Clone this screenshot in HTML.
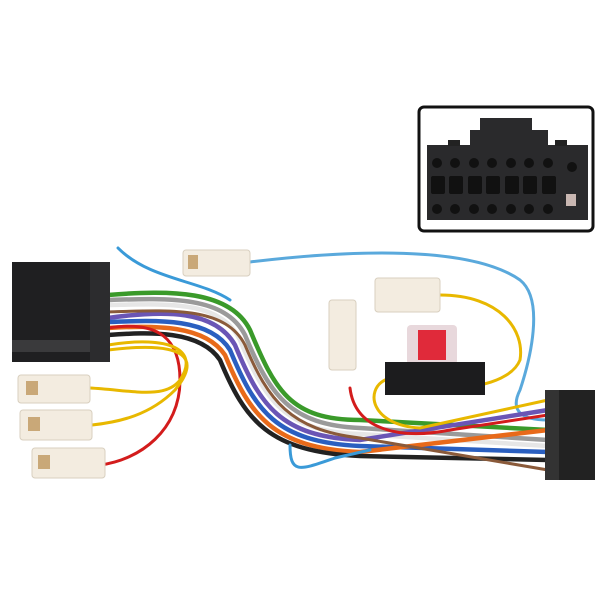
<!DOCTYPE html>
<html><head><meta charset="utf-8"><style>html,body{margin:0;padding:0;background:#fff}svg{display:block}</style></head>
<body>
<svg width="600" height="600" viewBox="0 0 600 600" xmlns="http://www.w3.org/2000/svg">
<rect width="600" height="600" fill="#fff"/>
<!-- inset -->
<rect x="419" y="107" width="174" height="124" rx="5" fill="#fff" stroke="#111" stroke-width="3"/>
<path d="M427 145 L427 220 L588 220 L588 145 L548 145 L548 130 L532 130 L532 118 L480 118 L480 130 L470 130 L470 145 Z" fill="#2a2a2c"/>
<rect x="448" y="140" width="12" height="6" fill="#222"/>
<rect x="555" y="140" width="12" height="6" fill="#222"/>
<g fill="#111">
<circle cx="437" cy="163" r="5"/><circle cx="455" cy="163" r="5"/><circle cx="474" cy="163" r="5"/><circle cx="492" cy="163" r="5"/><circle cx="511" cy="163" r="5"/><circle cx="529" cy="163" r="5"/><circle cx="548" cy="163" r="5"/><circle cx="572" cy="167" r="5"/>
<rect x="431" y="176" width="14" height="18" rx="2"/><rect x="449" y="176" width="14" height="18" rx="2"/><rect x="468" y="176" width="14" height="18" rx="2"/><rect x="486" y="176" width="14" height="18" rx="2"/><rect x="505" y="176" width="14" height="18" rx="2"/><rect x="523" y="176" width="14" height="18" rx="2"/><rect x="542" y="176" width="14" height="18" rx="2"/>
<circle cx="437" cy="209" r="5"/><circle cx="455" cy="209" r="5"/><circle cx="474" cy="209" r="5"/><circle cx="492" cy="209" r="5"/><circle cx="511" cy="209" r="5"/><circle cx="529" cy="209" r="5"/><circle cx="548" cy="209" r="5"/>
</g>
<rect x="566" y="194" width="10" height="12" fill="#c9b7b2"/>

<!-- wires -->
<g fill="none" stroke-width="4.5" stroke-linecap="round">
<path d="M118 248 C150 280 200 280 230 300" stroke="#3a9ad8" stroke-width="3"/>
<path d="M250 262 C350 250 470 245 520 280 C545 300 530 360 520 390 C510 410 520 420 548 420" stroke="#5aa9dc" stroke-width="3"/>
<path d="M440 295 C500 295 525 330 520 360 C510 385 460 390 450 385" stroke="#e8b800" stroke-width="3"/>
<path d="M108 295 C170 290 230 290 250 330 C275 390 290 420 360 420 L548 430" stroke="#3a9a2a"/>
<path d="M108 300 C170 298 225 296 245 335 C270 395 290 425 360 428 L548 440" stroke="#9a9a9a"/>
<path d="M108 305 C170 304 220 300 240 340 C265 400 285 432 360 434 L548 446" stroke="#e6e6e6"/>
<path d="M108 318 C165 310 215 310 235 345 C260 405 280 437 360 440 L548 410" stroke="#6a55b5"/>
<path d="M108 322 C160 320 210 318 230 350 C255 410 275 442 360 446 L548 452" stroke="#2a5fc0"/>
<path d="M108 328 C155 325 205 325 225 355 C250 415 272 448 360 452 L548 430" stroke="#e86a1a"/>
<path d="M108 335 C150 332 200 330 220 360 C245 420 268 452 360 456 L548 460" stroke="#222"/>
<path d="M108 312 C170 310 225 306 245 345 C268 400 290 430 360 438 L548 470" stroke="#8a5a3a" stroke-width="3"/>
<path d="M290 445 C290 475 300 470 335 458 L370 450" stroke="#3a9ad8" stroke-width="3"/>
<path d="M350 388 C355 430 400 440 450 430 L548 415" stroke="#d31c1c" stroke-width="3"/>
<path d="M385 380 C365 390 370 425 420 428 L548 400" stroke="#e8b800" stroke-width="3"/>
<path d="M108 328 C160 320 180 340 180 380 C180 430 140 460 100 465" stroke="#d31c1c" stroke-width="3"/>
<path d="M108 345 C170 335 200 350 180 380 C165 400 130 390 90 388" stroke="#e8b800" stroke-width="3"/>
<path d="M108 350 C190 340 200 360 175 390 C150 415 120 422 92 425" stroke="#e8b800" stroke-width="3"/>
</g>

<!-- left connector -->
<rect x="12" y="262" width="98" height="100" fill="#1f1f21"/>
<rect x="12" y="340" width="98" height="12" fill="#3a3a3c"/>
<rect x="90" y="262" width="20" height="100" fill="#2c2c2e"/>
<!-- right connector -->
<rect x="545" y="390" width="50" height="90" fill="#222"/>
<rect x="545" y="390" width="14" height="90" fill="#333"/>
<!-- fuse -->
<rect x="407" y="325" width="50" height="40" rx="4" fill="#e8d8dc"/>
<rect x="418" y="330" width="28" height="30" fill="#e02a3a"/>
<rect x="385" y="362" width="100" height="33" fill="#1c1c1e"/>
<!-- white terminals -->
<g fill="#f3ece0" stroke="#d8cfbf" stroke-width="1">
<rect x="183" y="250" width="67" height="26" rx="3"/>
<rect x="375" y="278" width="65" height="34" rx="3"/>
<rect x="329" y="300" width="27" height="70" rx="3"/>
<rect x="18" y="375" width="72" height="28" rx="3"/>
<rect x="20" y="410" width="72" height="30" rx="3"/>
<rect x="32" y="448" width="73" height="30" rx="3"/>
</g>
<g fill="#c9a878"><rect x="26" y="381" width="12" height="14"/><rect x="28" y="417" width="12" height="14"/><rect x="38" y="455" width="12" height="14"/><rect x="188" y="255" width="10" height="14"/></g>
</svg>
</body></html>
